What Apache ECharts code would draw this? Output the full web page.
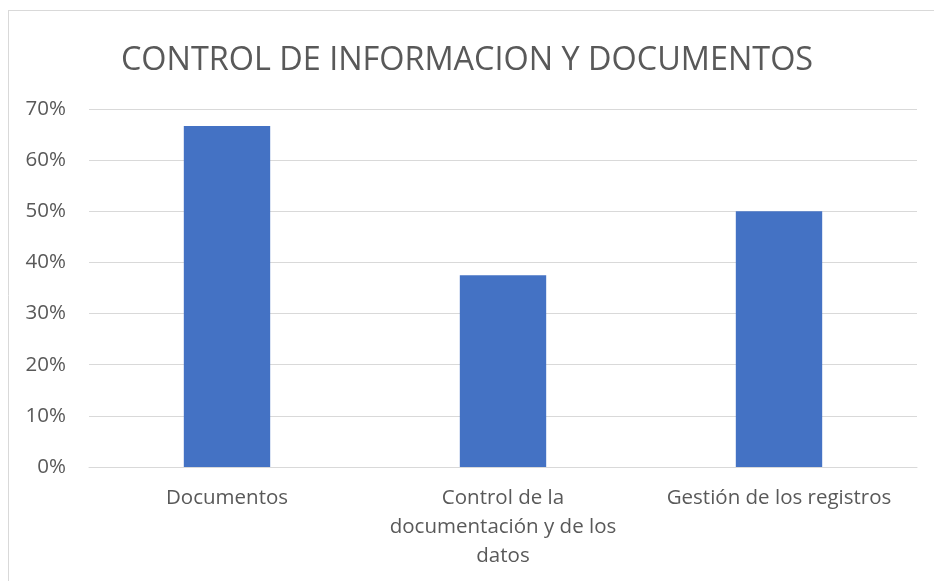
<!DOCTYPE html>
<html>
<head>
<meta charset="utf-8">
<script src="https://cdn.jsdelivr.net/npm/echarts@6/dist/echarts.min.js"></script>
<style>
html,body{margin:0;padding:0;background:#fff;}
#c{width:934px;height:581px;}
</style>
</head>
<body>
<div id="c"></div>
<script>
const titleText = "CONTROL DE INFORMACION Y DOCUMENTOS";
const categories = ["Documentos", "Control de la documentación y de los datos", "Gestión de los registros"];
const categoryLabels = ["Documentos", "Control de la\ndocumentación y de los\ndatos", "Gestión de los registros"];
const values = [0.6667, 0.375, 0.5];
const yTicks = [0, 0.1, 0.2, 0.3, 0.4, 0.5, 0.6, 0.7];

const FONT = "Open Sans";
const chart = echarts.init(document.getElementById('c'), null, {renderer: 'canvas'});
chart.setOption({
  animation: false,
  backgroundColor: '#fff',
  title: {
    text: titleText,
    left: 'center',
    top: 40,
    textStyle: {fontFamily: FONT, fontSize: 32.4, fontWeight: 'normal', color: '#595959'}
  },
  graphic: [
    {type: 'line', shape: {x1: 8, y1: 10.5, x2: 934, y2: 10.5}, style: {stroke: '#d9d9d9', lineWidth: 1}},
    {type: 'line', shape: {x1: 8.5, y1: 10, x2: 8.5, y2: 581}, style: {stroke: '#d9d9d9', lineWidth: 1}}
  ],
  grid: {left: 89, right: 17, top: 109, bottom: 114},
  xAxis: {
    type: 'category',
    data: categories,
    axisLine: {show: true, lineStyle: {color: '#d9d9d9', width: 1}},
    axisTick: {show: false},
    axisLabel: {
      interval: 0,
      margin: 17,
      fontFamily: FONT, fontSize: 20.5, color: '#595959', lineHeight: 29,
      formatter: (v, i) => categoryLabels[i]
    }
  },
  yAxis: {
    type: 'value',
    min: yTicks[0],
    max: yTicks[yTicks.length - 1],
    interval: 0.1,
    axisLine: {show: false},
    axisTick: {show: false},
    splitLine: {lineStyle: {color: '#d9d9d9', width: 1}},
    axisLabel: {
      margin: 23,
      fontFamily: FONT, fontSize: 20.5, color: '#595959',
      formatter: v => Math.round(v * 100) + '%'
    }
  },
  series: [{
    type: 'bar',
    data: values,
    barWidth: '31.3%',
    itemStyle: {color: '#4472c4'}
  }]
});
</script>
</body>
</html>
